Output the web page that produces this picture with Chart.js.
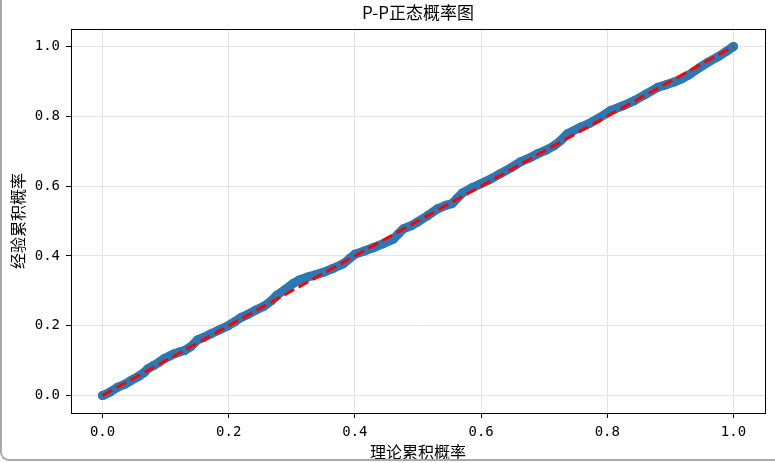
<!DOCTYPE html>
<html>
<head>
<meta charset="utf-8">
<script src="https://cdn.jsdelivr.net/npm/chart.js@4"></script>
<style>
    body { margin: 0; background: #fff; }
    #wrap { position: relative; width: 775px; height: 463px; overflow: hidden; }
    #frame {
        position: absolute; left: 0; top: -10px; width: 780px; height: 471px;
        border-left: 2px solid #a9a9a9; border-bottom: 2px solid #a9a9a9;
        border-bottom-left-radius: 9px; box-sizing: border-box; pointer-events: none;
    }
    canvas { position: absolute; left: 0; top: 0; }
</style>
</head>
<body>
<div id="wrap">
    <canvas id="ppChart" width="775" height="463"></canvas>
    <div id="frame"></div>
</div>
<script>
        // Values
        const theoretical = [0.000, 0.012, 0.024, 0.035, 0.045, 0.058, 0.066, 0.072, 0.080, 0.090,
            0.098, 0.106, 0.114, 0.122, 0.130, 0.140, 0.151, 0.160, 0.172, 0.185,
            0.199, 0.210, 0.220, 0.230, 0.242, 0.255, 0.268, 0.276, 0.288, 0.302,
            0.312, 0.324, 0.336, 0.350, 0.365, 0.382, 0.392, 0.400, 0.415, 0.430,
            0.445, 0.461, 0.470, 0.477, 0.490, 0.499, 0.515, 0.531, 0.544, 0.554,
            0.562, 0.570, 0.585, 0.600, 0.615, 0.631, 0.648, 0.663, 0.676, 0.690,
            0.703, 0.716, 0.726, 0.737, 0.758, 0.772, 0.785, 0.806, 0.825, 0.843,
            0.860, 0.880, 0.893, 0.906, 0.918, 0.928, 0.945, 0.960, 0.975, 0.988, 1.000];
        const empirical = [0.000, 0.010, 0.024, 0.032, 0.043, 0.056, 0.066, 0.077, 0.085, 0.096,
            0.106, 0.113, 0.120, 0.125, 0.129, 0.140, 0.160, 0.166, 0.177, 0.188,
            0.200, 0.212, 0.224, 0.232, 0.244, 0.255, 0.272, 0.287, 0.302, 0.321,
            0.331, 0.339, 0.345, 0.353, 0.364, 0.378, 0.393, 0.405, 0.414, 0.424,
            0.435, 0.448, 0.465, 0.478, 0.487, 0.497, 0.515, 0.535, 0.545, 0.550,
            0.565, 0.580, 0.595, 0.607, 0.620, 0.636, 0.653, 0.670, 0.680, 0.693,
            0.703, 0.716, 0.730, 0.750, 0.769, 0.780, 0.793, 0.817, 0.830, 0.845,
            0.862, 0.883, 0.890, 0.898, 0.907, 0.917, 0.938, 0.955, 0.970, 0.985, 1.000];
        const refX = [0, 1];
        const refY = [0, 1];
        const tickValues = [0, 0.2, 0.4, 0.6, 0.8, 1.0];

        const font = '"Noto Sans CJK SC", "Noto Sans", sans-serif';
        const tickFont = '"DejaVu Sans Mono", monospace';

        function toPoints(xs, ys) {
            return xs.map((x, i) => ({ x: x, y: ys[i] }));
        }

        // title above the plot box plus the top/right spines
        const boxPlugin = {
            id: 'box',
            afterDraw(chart) {
                const { ctx, chartArea: a } = chart;
                ctx.save();
                ctx.strokeStyle = '#000';
                ctx.lineWidth = 1;
                ctx.strokeRect(a.left + 0.5, a.top + 0.5, a.right - a.left, a.bottom - a.top);
                ctx.fillStyle = '#000';
                ctx.font = '17px ' + font;
                ctx.textAlign = 'center';
                ctx.textBaseline = 'middle';
                ctx.fillText('P-P正态概率图', (a.left + a.right) / 2, 13);
                ctx.restore();
            }
        };

        function axis(titleText, titlePad, fitFn) {
            return {
                type: 'linear',
                min: -0.05,
                max: 1.05,
                afterBuildTicks: s => { s.ticks = tickValues.map(v => ({ value: v })); },
                afterFit: fitFn,
                grid: { color: '#e3e3e3', tickColor: '#000', tickLength: 5 },
                border: { color: '#000', width: 1 },
                ticks: {
                    color: '#000',
                    padding: 6,
                    font: { family: tickFont, size: 14 },
                    callback: v => v.toFixed(1)
                },
                title: {
                    display: true,
                    text: titleText,
                    color: '#000',
                    font: { family: font, size: 16 },
                    padding: titlePad
                }
            };
        }

        new Chart(document.getElementById('ppChart').getContext('2d'), {
            type: 'scatter',
            data: {
                datasets: [{
                    label: '参考线',
                    data: toPoints(refX, refY),
                    showLine: true,
                    borderColor: '#ff0000',
                    borderWidth: 3,
                    borderDash: [11, 5],
                    pointRadius: 0,
                    order: 0
                }, {
                    label: '样本',
                    data: toPoints(theoretical, empirical),
                    showLine: true,
                    borderColor: '#2a78b4',
                    borderWidth: 9,
                    borderJoinStyle: 'round',
                    borderCapStyle: 'round',
                    backgroundColor: '#2a78b4',
                    pointBorderWidth: 0,
                    pointRadius: 4.5,
                    order: 1
                }]
            },
            options: {
                responsive: false,
                animation: false,
                layout: { padding: { top: 29, right: 10, left: 0, bottom: 0 } },
                plugins: {
                    legend: { display: false },
                    tooltip: { enabled: false }
                },
                scales: {
                    x: axis('理论累积概率', { top: 0, bottom: 1 }, s => { s.height = 50; }),
                    y: axis('经验累积概率', { top: 8, bottom: 0 }, s => { s.width = 71; })
                }
            },
            plugins: [boxPlugin]
        });
</script>
</body>
</html>
